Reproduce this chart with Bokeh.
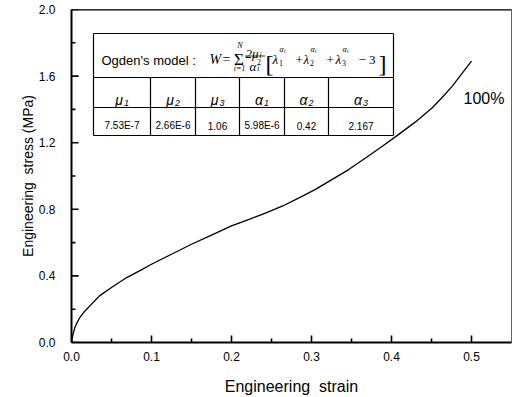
from bokeh.plotting import figure
from bokeh.models import Label, FixedTicker, Span
from bokeh.embed import file_html
from bokeh.resources import INLINE

# ---------------- data ----------------
strain = [0.0, 0.001, 0.002, 0.0042, 0.0065, 0.0104, 0.016, 0.023, 0.03, 0.035, 0.05, 0.069,
          0.085, 0.1, 0.125, 0.15, 0.175, 0.2, 0.222, 0.244, 0.264, 0.285, 0.305,
          0.326, 0.347, 0.368, 0.389, 0.409, 0.430, 0.451, 0.463, 0.476, 0.488, 0.5]
stress = [0.0, 0.03, 0.05, 0.09, 0.115, 0.15, 0.185, 0.22, 0.255, 0.28, 0.33, 0.39,
          0.43, 0.47, 0.53, 0.59, 0.645, 0.70, 0.74, 0.78, 0.82, 0.87, 0.92,
          0.98, 1.04, 1.11, 1.18, 1.25, 1.325, 1.41, 1.47, 1.54, 1.615, 1.69]

x_ticks = [0.0, 0.1, 0.2, 0.3, 0.4, 0.5]
x_tick_labels = ["0.0", "0.1", "0.2", "0.3", "0.4", "0.5"]
x_minor = [0.05, 0.15, 0.25, 0.35, 0.45]
y_ticks = [0.0, 0.4, 0.8, 1.2, 1.6, 2.0]
y_tick_labels = ["0.0", "0.4", "0.8", "1.2", "1.6", "2.0"]
y_minor = [0.2, 0.6, 1.0, 1.4, 1.8]

x_title = "Engineering\u00a0 strain"
y_title = "Engineering\u00a0 stress (MPa)"

param_symbols = ["μ", "μ", "μ", "α", "α", "α"]
param_indices = ["1", "2", "3", "1", "2", "3"]
param_values = ["7.53E-7", "2.66E-6", "1.06", "5.98E-6", "0.42", "2.167"]
curve_label = "100%"

# ---------------- figure ----------------
W, H = 512, 397
FL, FR, FT, FB = 71.0, 511.0, 9.0, 342.0
XMAX, YMAX = 0.55, 2.0
p = figure(width=W, height=H, x_range=(0, XMAX), y_range=(0, YMAX),
           output_backend="svg", toolbar_location=None,
           min_border_left=int(FL), min_border_right=int(W - FR), min_border_top=int(FT),
           min_border_bottom=int(H - FB))
p.grid.visible = False
p.background_fill_color = "white"
p.border_fill_color = "white"
p.outline_line_color = "#666666"
p.outline_line_width = 1

SANS = "Liberation Sans"
SERIF = "Liberation Serif"

def dx(px):
    return (px - FL) / (FR - FL) * XMAX
def dy(py):
    return (FB - py) / (FB - FT) * YMAX
PXX = XMAX / (FR - FL)   # data per pixel (x)
PXY = YMAX / (FB - FT)   # data per pixel (y)

for ax, ticks, labels, title, tsize in [(p.xaxis[0], x_ticks, x_tick_labels, x_title, "16px"),
                                        (p.yaxis[0], y_ticks, y_tick_labels, y_title, "14px")]:
    ax.ticker = FixedTicker(ticks=ticks)
    ax.major_label_overrides = {t: l for t, l in zip(ticks, labels)}
    ax.axis_label = title
    ax.axis_label_text_font = SANS
    ax.axis_label_text_font_style = "normal"
    ax.axis_label_text_font_size = tsize
    ax.axis_label_text_color = "black"
    ax.major_label_text_font = SANS
    ax.major_label_text_font_size = "12px"
    ax.major_label_text_color = "black"
    ax.axis_line_width = 2
    ax.axis_line_color = "black"
    ax.major_tick_in = 0
    ax.major_tick_out = 0
    ax.minor_tick_in = 0
    ax.minor_tick_out = 0
    ax.major_tick_line_color = None
    ax.minor_tick_line_color = None

p.xaxis.major_label_standoff = 9
p.xaxis.axis_label_standoff = 14
p.yaxis.major_label_standoff = 16
p.yaxis.axis_label_standoff = 0

p.add_layout(Span(location=YMAX, dimension="width", line_color="black", line_width=2))

# inward ticks
tx0, ty0, tx1, ty1 = [], [], [], []
for t in x_ticks:
    tx0.append(t); tx1.append(t); ty0.append(0); ty1.append(7 * PXY)
for t in x_minor:
    tx0.append(t); tx1.append(t); ty0.append(0); ty1.append(4 * PXY)
for t in y_ticks:
    tx0.append(0); tx1.append(7 * PXX); ty0.append(t); ty1.append(t)
for t in y_minor:
    tx0.append(0); tx1.append(4 * PXX); ty0.append(t); ty1.append(t)
p.segment(x0=tx0, y0=ty0, x1=tx1, y1=ty1, line_color="black", line_width=1.6)

# curve
p.line(strain, stress, line_color="black", line_width=1.3)

def lab(text, px, py, size, font=SANS, style="normal", align="left"):
    p.add_layout(Label(x=dx(px), y=dy(py), text=text, text_font=font,
                       text_font_style=style, text_font_size=f"{size}px",
                       text_align=align, text_baseline="alphabetic",
                       text_color="black"))

lab(curve_label, 463, 98, 16)

# ---------------- table ----------------
cols = [93, 150, 195, 239, 284, 328, 393]
rows = [33, 77, 107, 135]
p.quad(left=[dx(cols[0])], right=[dx(cols[-1])], top=[dy(rows[0])], bottom=[dy(rows[-1])],
       fill_color="white", line_color=None)
x0s, y0s, x1s, y1s = [], [], [], []
for r in rows:
    x0s.append(dx(cols[0])); x1s.append(dx(cols[-1])); y0s.append(dy(r)); y1s.append(dy(r))
for i, c in enumerate(cols):
    top = rows[0] if i in (0, len(cols) - 1) else rows[1]
    x0s.append(dx(c)); x1s.append(dx(c)); y0s.append(dy(top)); y1s.append(dy(rows[-1]))
p.segment(x0=x0s, y0=y0s, x1=x1s, y1=y1s, line_color="black", line_width=1.2)

lab("Ogden's model :", 101, 60, 13)
# formula
lab("W", 209, 59, 14, SERIF, "italic")
lab("=", 222, 59, 14, SERIF)
lab("Σ", 238.5, 59, 17, SERIF, "normal", "center")
lab("N", 239.5, 45, 8, SERIF, "italic", "center")
lab("i=1", 239, 68, 8, SERIF, "italic", "center")
lab("2μ", 245, 53, 13, SERIF, "italic")
lab("i", 259, 55, 8, SERIF, "italic")
p.segment(x0=[dx(244.5)], y0=[dy(55.5)], x1=[dx(264.5)], y1=[dy(55.5)], line_color="black", line_width=0.8)
lab("α", 249, 66, 13, SERIF, "italic")
lab("2", 256.5, 61, 8, SERIF)
lab("i", 256.5, 68, 8, SERIF, "italic")
lab("[", 265, 63, 24, SERIF)
for k, lx in enumerate([272, 303, 335]):
    lab("λ", lx, 59, 13, SERIF, "italic")
    lab(str(k + 1), lx + 6.5, 62, 8, SERIF)
    lab("α", lx + 7, 49, 8, SERIF, "italic")
    lab("i", lx + 11.5, 50.5, 5.5, SERIF, "italic")
lab("+", 295, 59, 13, SERIF)
lab("+", 326, 59, 13, SERIF)
lab("− 3", 358, 59, 13, SERIF)
lab("]", 378, 63, 24, SERIF)

# parameter header and values
for i in range(6):
    c = (cols[i] + cols[i + 1]) / 2.0
    lab(param_symbols[i], c - 3, 99, 14, SANS, "italic", "center")
    lab(param_indices[i], c + 2, 102, 9, SANS, "italic")
    lab(param_values[i], c, 125, 10, SANS, "normal", "center")

open("out.html", "w").write(file_html(p, INLINE))
